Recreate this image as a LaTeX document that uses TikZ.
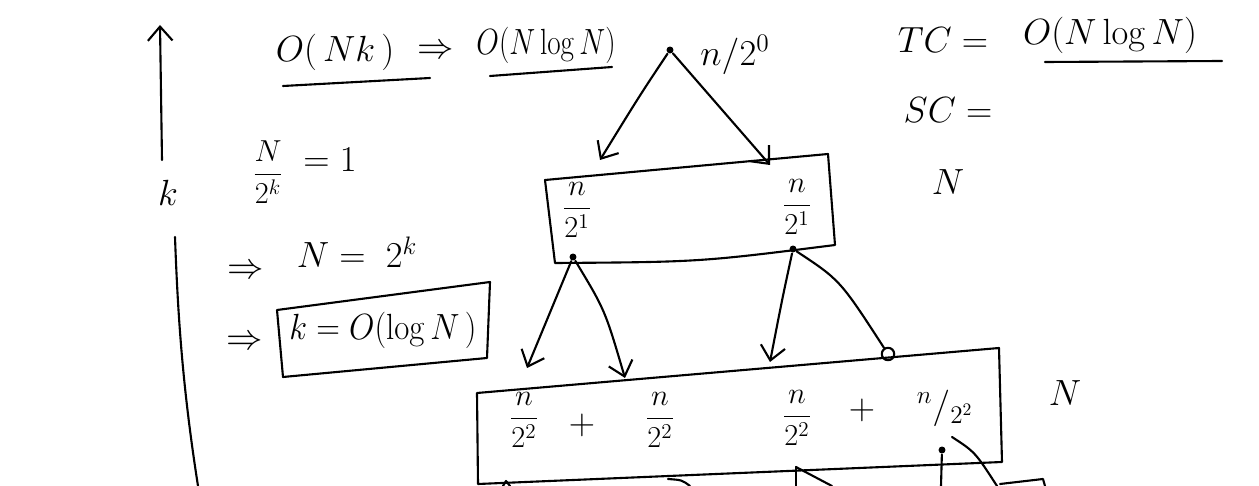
\documentclass[tikz,border=0pt]{standalone}
\usetikzlibrary{arrows.meta}
\newcommand{\sqz}[2][0.8]{\scalebox{#1}[1]{#2}}
\begin{document}
\begin{tikzpicture}[x=0.02cm,y=-0.02cm, line width=1.2pt, line cap=round, line join=round,
  hw/.style={font=\fontsize{20}{24}\selectfont, inner sep=0pt},
  fr/.style={font=\fontsize{17}{20}\selectfont, inner sep=0pt},
  arr/.style={-{Straight Barb[length=8pt,width=14pt]}},
  dot/.style={circle,fill,inner sep=1.4pt},
  ring/.style={circle,draw,inner sep=2.5pt}]
\useasboundingbox[fill=white] (0,0) rectangle (1259,486);

% left k axis
\coordinate (axlow) at (162,160);
\coordinate (axtop) at (160,25);
\draw[arr] (axlow) -- (axtop);
\node[hw] (klab) at (168,193) {$k$};
\coordinate (axa) at (175,237);
\coordinate (axb) at (198,486);
\draw (axa) .. controls (178,320) and (183,390) .. (axb);

% top formula
\node[hw] (onk) at (335,52) {$O(\,Nk\,)$};
\draw (283,86) -- (430,78);
\node[hw] (imp1) at (436,52) {$\Rightarrow$};
\node[hw] (onl1) at (546,45) {\sqz{$O(N\log N)$}};
\draw (490,76) -- (612,67);

% derivation
\node[fr] (frac) at (268,172) {$\displaystyle\frac{N}{2^k}$};
\node[hw] (eq1) at (330,160) {$=1$};
\node[hw] (imp2) at (246,272) {$\Rightarrow$};
\node[hw] (neq) at (357,252) {$N=\;2^k$};
\node[hw] (imp3) at (245,343) {$\Rightarrow$};
\coordinate (kb1) at (277,310);
\coordinate (kb2) at (490,282);
\coordinate (kb3) at (487,358);
\coordinate (kb4) at (283,377);
\draw (kb1) -- (kb2) -- (kb3) -- (kb4) -- cycle;
\node[hw] (kres) at (383,330) {\sqz[0.9]{$k=O(\log N\,)$}};

% root
\node[dot] (root) at (670,50) {};
\node[hw] (rootlab) at (735,55) {$n/2^0$};
\coordinate (c1l) at (600,160);
\coordinate (c1r) at (770,165);
\draw[arr] (root) .. controls (640,95) .. (c1l);
\draw[arr] (root) -- (c1r);

% level 1 box
\coordinate (b1a) at (545,180);
\coordinate (b1b) at (828,154);
\coordinate (b1c) at (835,245);
\coordinate (b1d) at (555,263);
\draw (b1a) -- (b1b) -- (b1c) .. controls (700,262) .. (b1d) -- cycle;
\node[fr] (b1l) at (577,210) {$\displaystyle\frac{n}{2^1}$};
\node[fr] (b1r) at (797,207) {$\displaystyle\frac{n}{2^1}$};

% level 1 -> level 2
\node[dot] (d1) at (573,257) {};
\node[dot] (d2) at (793,249) {};
\coordinate (c2a) at (527,368);
\coordinate (c2b) at (625,378);
\coordinate (c2c) at (770,362);
\node[ring] (c2d) at (888,354) {};
\draw[arr] (d1) -- (c2a);
\draw[arr] (d1) .. controls (605,310) .. (c2b);
\draw[arr] (d2) .. controls (782,300) .. (c2c);
\draw (d2) .. controls (840,280) .. (c2d);

% level 2 box
\coordinate (b2a) at (477,393);
\coordinate (b2b) at (999,348);
\coordinate (b2c) at (1002,462);
\coordinate (b2d) at (478,484);
\draw (b2d) -- (b2a) -- (b2b) -- (b2c) -- (b2d);
\node[fr] (t1) at (524,420) {$\displaystyle\frac{n}{2^2}$};
\node[hw] (p1) at (582,425) {$+$};
\node[fr] (t2) at (660,420) {$\displaystyle\frac{n}{2^2}$};
\node[fr] (t3) at (797,418) {$\displaystyle\frac{n}{2^2}$};
\node[hw] (p2) at (862,410) {$+$};
\node[hw] (t4) at (945,408) {$^n/_{2^2}$};
\node[hw] (nr) at (1065,393) {$N$};

% level 2 -> next (cut off)
\coordinate (e1) at (796,467);
\coordinate (e1b) at (796,486);
\coordinate (e2b) at (832,486);
\draw (e1) -- (e1b);
\draw (e1) -- (e2b);
\node[dot] (d3) at (942,450) {};
\coordinate (e3b) at (941,486);
\draw (d3) -- (e3b);
\coordinate (e4a) at (952,437);
\coordinate (e4b) at (997,486);
\draw (e4a) .. controls (975,452) .. (e4b);
\draw (1000,484) -- (1043,479) -- (1045,486);
\draw (668,479) .. controls (682,480) .. (690,486);
\draw (503,486) -- (506,481) -- (510,486);

% right column
\node[hw] (tc) at (943,40) {$TC=$};
\node[hw] (tcv) at (1110,35) {$O(N\log N)$};
\draw (1045,62) -- (1222,61);
\node[hw] (sc) at (948,110) {$SC=$};
\node[hw] (nsc) at (948,182) {$N$};
\end{tikzpicture}
\end{document}
